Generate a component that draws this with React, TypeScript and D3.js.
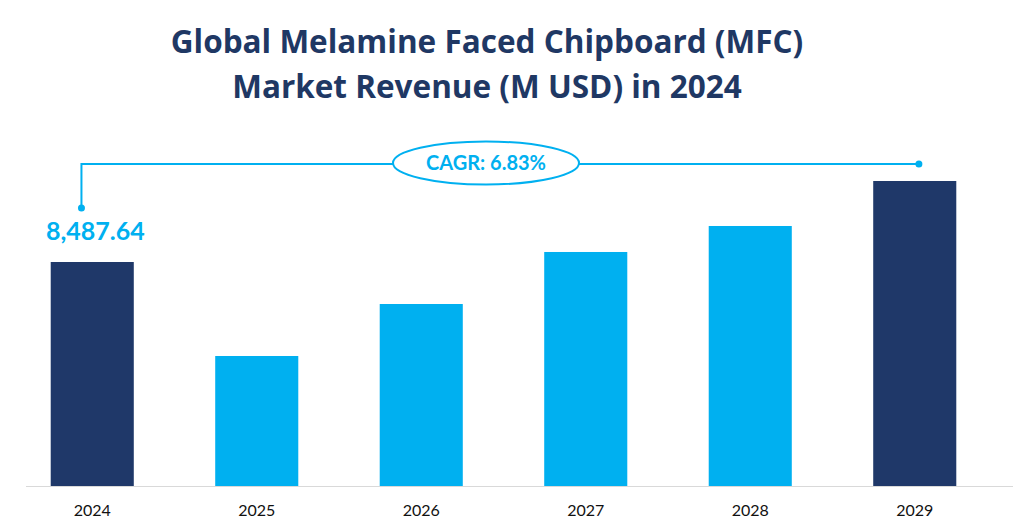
import React, { useEffect, useRef } from 'react';
import * as d3 from 'd3';

const years = ['2024', '2025', '2026', '2027', '2028', '2029'];
const revenue = [8487.64, 4926, 6896, 8867, 9852, 11557];
const highlighted = ['2024', '2029'];
const titleLines = ['Global Melamine Faced Chipboard (MFC)', 'Market Revenue (M USD) in 2024'];
const cagrLabel = 'CAGR: 6.83%';
const firstLabel = '8,487.64';

const width = 1019;
const height = 529;
const dark = '#1f3869';
const light = '#00b0f0';
const font = 'Lato, "Open Sans", sans-serif';
const titleFont = '"Open Sans", Lato, sans-serif';

const App: React.FC = () => {
  const svgRef = useRef<SVGSVGElement>(null);

  useEffect(() => {
    const svg = d3.select(svgRef.current);
    svg.selectAll('*').remove();

    const baseline = 486;

    const x = d3.scaleBand()
      .domain(years)
      .range([10, 997])
      .paddingInner(0.495)
      .paddingOuter(0.2475);

    const y = d3.scaleLinear()
      .domain([0, 12000])
      .range([baseline, baseline - 12000 * (224 / 8487.64)]);

    // title
    svg.append('g')
      .selectAll('text')
      .data(titleLines)
      .join('text')
      .attr('x', 487)
      .attr('y', (_, i) => 53 + i * 45)
      .attr('text-anchor', 'middle')
      .style('font-family', titleFont)
      .style('font-weight', 'bold')
      .style('font-size', '31.5px')
      .style('fill', '#1f3864')
      .text(d => d);

    // bars
    svg.append('g')
      .selectAll('rect')
      .data(years)
      .join('rect')
      .attr('x', d => x(d)!)
      .attr('y', (_, i) => y(revenue[i]))
      .attr('width', x.bandwidth())
      .attr('height', (_, i) => baseline - y(revenue[i]))
      .attr('fill', d => highlighted.includes(d) ? dark : light);

    // axis line
    svg.append('line')
      .attr('x1', 26)
      .attr('x2', 1013)
      .attr('y1', baseline + 0.5)
      .attr('y2', baseline + 0.5)
      .attr('stroke', '#d9d9d9')
      .attr('stroke-width', 1);

    // tick labels
    svg.append('g')
      .selectAll('text')
      .data(years)
      .join('text')
      .attr('x', d => x(d)! + x.bandwidth() / 2)
      .attr('y', 516)
      .attr('text-anchor', 'middle')
      .style('font-family', font)
      .style('font-size', '16px')
      .style('fill', '#111')
      .text(d => d);

    // CAGR connector
    const first = years[0];
    const last = years[years.length - 1];
    const lineY = 164;
    const x0 = x(first)! + x.bandwidth() * 0.37;
    const x1 = x(last)! + x.bandwidth() * 0.55;

    svg.append('path')
      .attr('d', `M${x0},${y(revenue[0]) - 54} V${lineY} H${x1}`)
      .attr('fill', 'none')
      .attr('stroke', light)
      .attr('stroke-width', 2);

    svg.append('circle')
      .attr('cx', x0)
      .attr('cy', y(revenue[0]) - 54)
      .attr('r', 3.5)
      .attr('fill', light);

    svg.append('circle')
      .attr('cx', x1)
      .attr('cy', lineY)
      .attr('r', 3.5)
      .attr('fill', light);

    svg.append('ellipse')
      .attr('cx', 486)
      .attr('cy', 163)
      .attr('rx', 93)
      .attr('ry', 21.5)
      .attr('fill', '#fff')
      .attr('stroke', light)
      .attr('stroke-width', 2);

    svg.append('text')
      .attr('x', 486)
      .attr('y', 170)
      .attr('text-anchor', 'middle')
      .style('font-family', font)
      .style('font-weight', 'bold')
      .style('font-size', '20px')
      .style('fill', light)
      .text(cagrLabel);

    // first value label
    svg.append('text')
      .attr('x', 46)
      .attr('y', 240)
      .style('font-family', font)
      .style('font-weight', 'bold')
      .style('font-size', '25px')
      .style('fill', light)
      .text(firstLabel);
  }, []);

  return (
    <svg
      ref={svgRef}
      width={width}
      height={height}
      style={{ position: 'absolute', left: 0, top: 0, background: '#fff' }}
    />
  );
};

export default App;
